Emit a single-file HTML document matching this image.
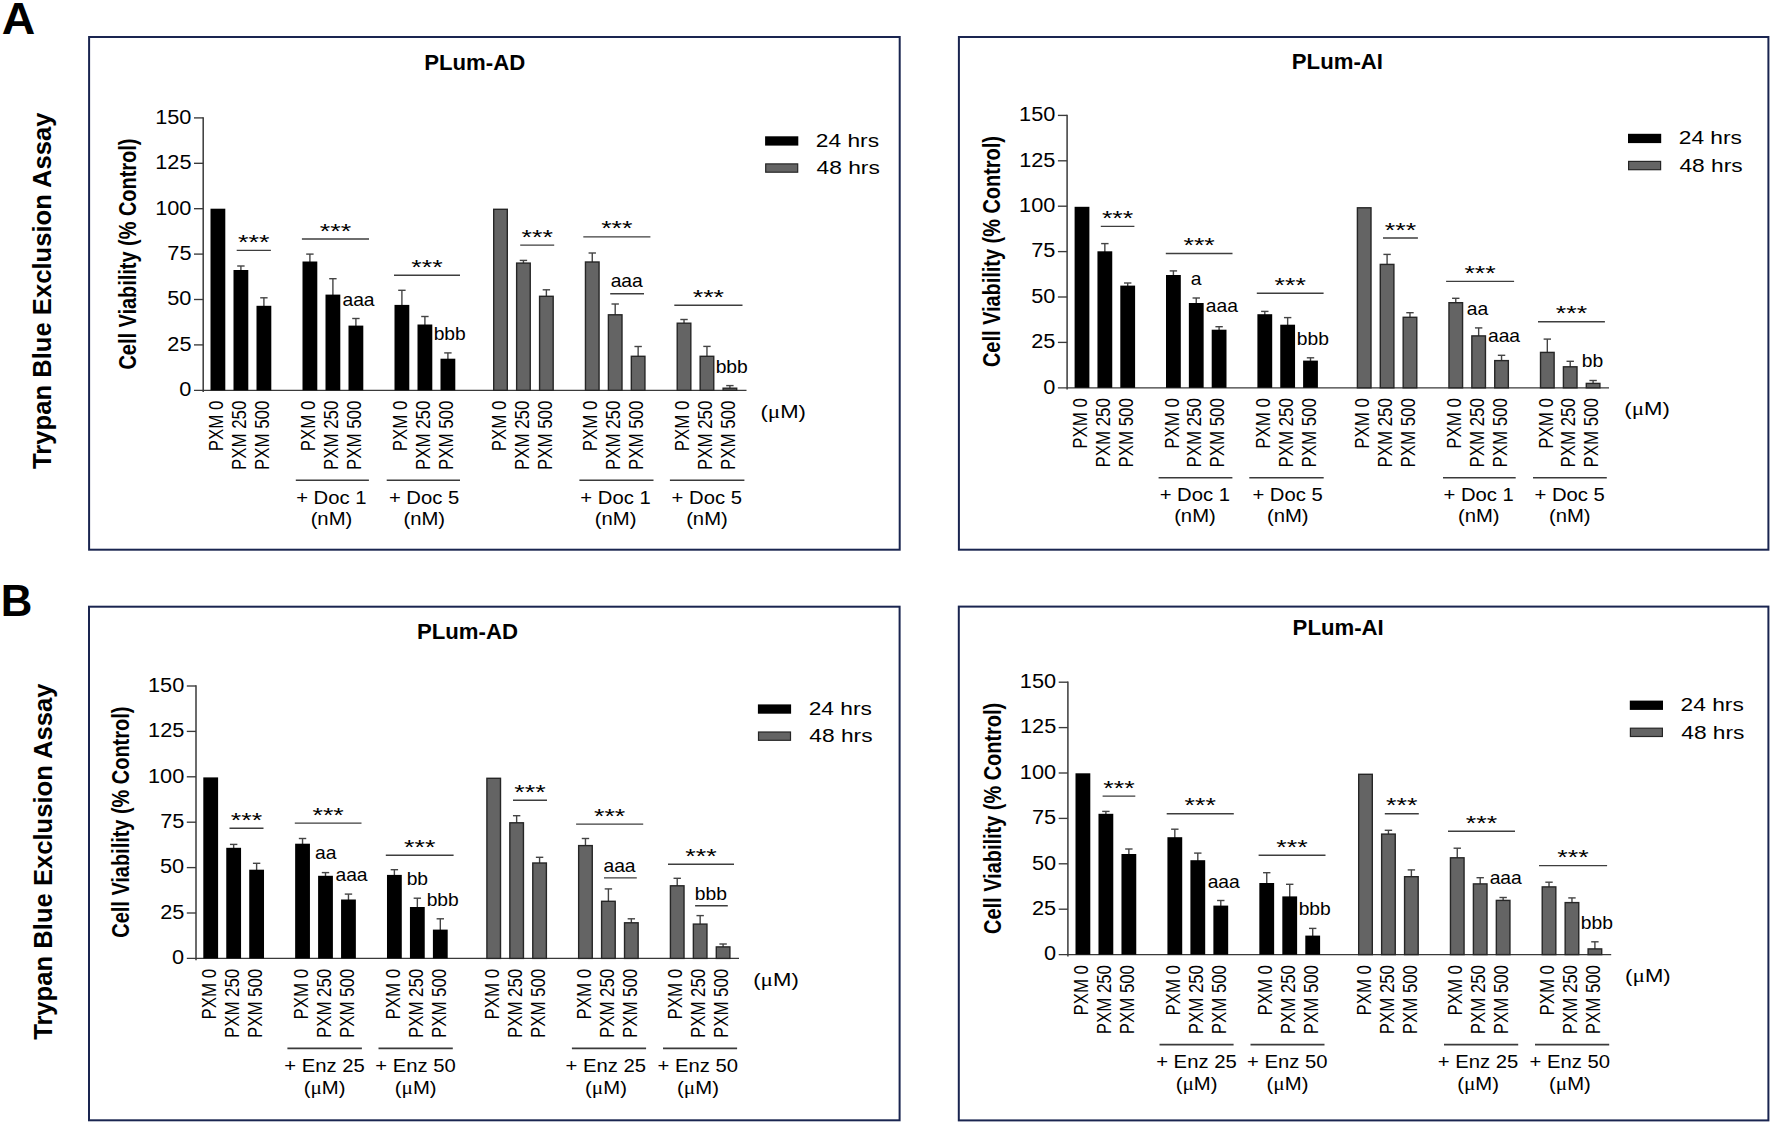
<!DOCTYPE html><html><head><meta charset="utf-8"><title>Figure</title><style>html,body{margin:0;padding:0;background:#fff}svg{display:block}</style></head><body>
<svg width="1772" height="1124" viewBox="0 0 1772 1124">
<rect width="1772" height="1124" fill="#fff"/>
<rect x="89.1" y="37" width="810.6" height="512.7" fill="none" stroke="#1a2550" stroke-width="2"/>
<text transform="translate(424.21 69.90) scale(1.0017 1)" font-family="'Liberation Sans', sans-serif" font-weight="bold" font-size="22.14" fill="#000">PLum-AD</text>
<text transform="translate(135.80 369.60) rotate(-90) scale(0.8213 1)" font-family="'Liberation Sans', sans-serif" font-weight="bold" font-size="24.28" fill="#000">Cell Viability (% Control)</text>
<line x1="203.20" y1="117.20" x2="203.20" y2="392.10" stroke="#3a3a3a" stroke-width="1.5"/>
<line x1="194.00" y1="390.30" x2="746.50" y2="390.30" stroke="#3a3a3a" stroke-width="1.35"/>
<line x1="194.00" y1="344.90" x2="203.20" y2="344.90" stroke="#3a3a3a" stroke-width="1.35"/>
<line x1="194.00" y1="299.50" x2="203.20" y2="299.50" stroke="#3a3a3a" stroke-width="1.35"/>
<line x1="194.00" y1="254.10" x2="203.20" y2="254.10" stroke="#3a3a3a" stroke-width="1.35"/>
<line x1="194.00" y1="208.70" x2="203.20" y2="208.70" stroke="#3a3a3a" stroke-width="1.35"/>
<line x1="194.00" y1="163.30" x2="203.20" y2="163.30" stroke="#3a3a3a" stroke-width="1.35"/>
<line x1="194.00" y1="117.90" x2="203.20" y2="117.90" stroke="#3a3a3a" stroke-width="1.35"/>
<text transform="translate(179.30 396.10) scale(1.0868 1)" font-family="'Liberation Sans', sans-serif" font-size="20.00" fill="#000">0</text>
<text transform="translate(167.34 350.70) scale(1.0868 1)" font-family="'Liberation Sans', sans-serif" font-size="20.00" fill="#000">25</text>
<text transform="translate(167.23 305.30) scale(1.0868 1)" font-family="'Liberation Sans', sans-serif" font-size="20.00" fill="#000">50</text>
<text transform="translate(167.34 259.90) scale(1.0868 1)" font-family="'Liberation Sans', sans-serif" font-size="20.00" fill="#000">75</text>
<text transform="translate(155.17 214.50) scale(1.0868 1)" font-family="'Liberation Sans', sans-serif" font-size="20.00" fill="#000">100</text>
<text transform="translate(155.28 169.10) scale(1.0868 1)" font-family="'Liberation Sans', sans-serif" font-size="20.00" fill="#000">125</text>
<text transform="translate(155.17 123.70) scale(1.0868 1)" font-family="'Liberation Sans', sans-serif" font-size="20.00" fill="#000">150</text>
<rect x="210.50" y="208.70" width="14.8" height="181.60" fill="#000"/>
<text transform="translate(223.10 451.28) rotate(-90) scale(0.8600 1)" font-family="'Liberation Sans', sans-serif" font-size="19.60" fill="#000">PXM 0</text>
<line x1="240.90" y1="266.00" x2="240.90" y2="271.00" stroke="#444" stroke-width="1.4"/>
<line x1="237.20" y1="266.00" x2="244.60" y2="266.00" stroke="#444" stroke-width="1.4"/>
<rect x="233.50" y="270.00" width="14.8" height="120.30" fill="#000"/>
<text transform="translate(246.10 469.99) rotate(-90) scale(0.8600 1)" font-family="'Liberation Sans', sans-serif" font-size="19.60" fill="#000">PXM 250</text>
<line x1="263.90" y1="297.80" x2="263.90" y2="306.80" stroke="#444" stroke-width="1.4"/>
<line x1="260.20" y1="297.80" x2="267.60" y2="297.80" stroke="#444" stroke-width="1.4"/>
<rect x="256.50" y="305.80" width="14.8" height="84.50" fill="#000"/>
<text transform="translate(269.10 469.99) rotate(-90) scale(0.8600 1)" font-family="'Liberation Sans', sans-serif" font-size="19.60" fill="#000">PXM 500</text>
<line x1="309.90" y1="254.10" x2="309.90" y2="262.50" stroke="#444" stroke-width="1.4"/>
<line x1="306.20" y1="254.10" x2="313.60" y2="254.10" stroke="#444" stroke-width="1.4"/>
<rect x="302.50" y="261.50" width="14.8" height="128.80" fill="#000"/>
<text transform="translate(315.10 451.28) rotate(-90) scale(0.8600 1)" font-family="'Liberation Sans', sans-serif" font-size="19.60" fill="#000">PXM 0</text>
<line x1="332.90" y1="278.70" x2="332.90" y2="295.60" stroke="#444" stroke-width="1.4"/>
<line x1="329.20" y1="278.70" x2="336.60" y2="278.70" stroke="#444" stroke-width="1.4"/>
<rect x="325.50" y="294.60" width="14.8" height="95.70" fill="#000"/>
<text transform="translate(338.10 469.99) rotate(-90) scale(0.8600 1)" font-family="'Liberation Sans', sans-serif" font-size="19.60" fill="#000">PXM 250</text>
<line x1="355.90" y1="318.50" x2="355.90" y2="326.60" stroke="#444" stroke-width="1.4"/>
<line x1="352.20" y1="318.50" x2="359.60" y2="318.50" stroke="#444" stroke-width="1.4"/>
<rect x="348.50" y="325.60" width="14.8" height="64.70" fill="#000"/>
<text transform="translate(361.10 469.99) rotate(-90) scale(0.8600 1)" font-family="'Liberation Sans', sans-serif" font-size="19.60" fill="#000">PXM 500</text>
<line x1="401.90" y1="290.30" x2="401.90" y2="305.90" stroke="#444" stroke-width="1.4"/>
<line x1="398.20" y1="290.30" x2="405.60" y2="290.30" stroke="#444" stroke-width="1.4"/>
<rect x="394.50" y="304.90" width="14.8" height="85.40" fill="#000"/>
<text transform="translate(407.10 451.28) rotate(-90) scale(0.8600 1)" font-family="'Liberation Sans', sans-serif" font-size="19.60" fill="#000">PXM 0</text>
<line x1="424.90" y1="316.50" x2="424.90" y2="325.50" stroke="#444" stroke-width="1.4"/>
<line x1="421.20" y1="316.50" x2="428.60" y2="316.50" stroke="#444" stroke-width="1.4"/>
<rect x="417.50" y="324.50" width="14.8" height="65.80" fill="#000"/>
<text transform="translate(430.10 469.99) rotate(-90) scale(0.8600 1)" font-family="'Liberation Sans', sans-serif" font-size="19.60" fill="#000">PXM 250</text>
<line x1="447.90" y1="352.90" x2="447.90" y2="359.70" stroke="#444" stroke-width="1.4"/>
<line x1="444.20" y1="352.90" x2="451.60" y2="352.90" stroke="#444" stroke-width="1.4"/>
<rect x="440.50" y="358.70" width="14.8" height="31.60" fill="#000"/>
<text transform="translate(453.10 469.99) rotate(-90) scale(0.8600 1)" font-family="'Liberation Sans', sans-serif" font-size="19.60" fill="#000">PXM 500</text>
<rect x="493.70" y="209.30" width="13.600000000000001" height="181.00" fill="#646464" stroke="#262626" stroke-width="1.4"/>
<text transform="translate(505.70 451.28) rotate(-90) scale(0.8600 1)" font-family="'Liberation Sans', sans-serif" font-size="19.60" fill="#000">PXM 0</text>
<line x1="523.44" y1="260.40" x2="523.44" y2="263.50" stroke="#444" stroke-width="1.4"/>
<line x1="519.74" y1="260.40" x2="527.14" y2="260.40" stroke="#444" stroke-width="1.4"/>
<rect x="516.64" y="263.10" width="13.600000000000001" height="127.20" fill="#646464" stroke="#262626" stroke-width="1.4"/>
<text transform="translate(528.64 469.99) rotate(-90) scale(0.8600 1)" font-family="'Liberation Sans', sans-serif" font-size="19.60" fill="#000">PXM 250</text>
<line x1="546.38" y1="289.80" x2="546.38" y2="296.70" stroke="#444" stroke-width="1.4"/>
<line x1="542.68" y1="289.80" x2="550.08" y2="289.80" stroke="#444" stroke-width="1.4"/>
<rect x="539.58" y="296.30" width="13.600000000000001" height="94.00" fill="#646464" stroke="#262626" stroke-width="1.4"/>
<text transform="translate(551.58 469.99) rotate(-90) scale(0.8600 1)" font-family="'Liberation Sans', sans-serif" font-size="19.60" fill="#000">PXM 500</text>
<line x1="592.26" y1="253.00" x2="592.26" y2="262.40" stroke="#444" stroke-width="1.4"/>
<line x1="588.56" y1="253.00" x2="595.96" y2="253.00" stroke="#444" stroke-width="1.4"/>
<rect x="585.46" y="262.00" width="13.600000000000001" height="128.30" fill="#646464" stroke="#262626" stroke-width="1.4"/>
<text transform="translate(597.46 451.28) rotate(-90) scale(0.8600 1)" font-family="'Liberation Sans', sans-serif" font-size="19.60" fill="#000">PXM 0</text>
<line x1="615.20" y1="304.00" x2="615.20" y2="315.20" stroke="#444" stroke-width="1.4"/>
<line x1="611.50" y1="304.00" x2="618.90" y2="304.00" stroke="#444" stroke-width="1.4"/>
<rect x="608.40" y="314.80" width="13.600000000000001" height="75.50" fill="#646464" stroke="#262626" stroke-width="1.4"/>
<text transform="translate(620.40 469.99) rotate(-90) scale(0.8600 1)" font-family="'Liberation Sans', sans-serif" font-size="19.60" fill="#000">PXM 250</text>
<line x1="638.14" y1="346.50" x2="638.14" y2="356.70" stroke="#444" stroke-width="1.4"/>
<line x1="634.44" y1="346.50" x2="641.84" y2="346.50" stroke="#444" stroke-width="1.4"/>
<rect x="631.34" y="356.30" width="13.600000000000001" height="34.00" fill="#646464" stroke="#262626" stroke-width="1.4"/>
<text transform="translate(643.34 469.99) rotate(-90) scale(0.8600 1)" font-family="'Liberation Sans', sans-serif" font-size="19.60" fill="#000">PXM 500</text>
<line x1="684.02" y1="319.50" x2="684.02" y2="323.60" stroke="#444" stroke-width="1.4"/>
<line x1="680.32" y1="319.50" x2="687.72" y2="319.50" stroke="#444" stroke-width="1.4"/>
<rect x="677.22" y="323.20" width="13.600000000000001" height="67.10" fill="#646464" stroke="#262626" stroke-width="1.4"/>
<text transform="translate(689.22 451.28) rotate(-90) scale(0.8600 1)" font-family="'Liberation Sans', sans-serif" font-size="19.60" fill="#000">PXM 0</text>
<line x1="706.96" y1="346.40" x2="706.96" y2="356.70" stroke="#444" stroke-width="1.4"/>
<line x1="703.26" y1="346.40" x2="710.66" y2="346.40" stroke="#444" stroke-width="1.4"/>
<rect x="700.16" y="356.30" width="13.600000000000001" height="34.00" fill="#646464" stroke="#262626" stroke-width="1.4"/>
<text transform="translate(712.16 469.99) rotate(-90) scale(0.8600 1)" font-family="'Liberation Sans', sans-serif" font-size="19.60" fill="#000">PXM 250</text>
<line x1="729.90" y1="385.60" x2="729.90" y2="388.60" stroke="#444" stroke-width="1.4"/>
<line x1="726.20" y1="385.60" x2="733.60" y2="385.60" stroke="#444" stroke-width="1.4"/>
<rect x="723.10" y="388.20" width="13.600000000000001" height="2.10" fill="#646464" stroke="#262626" stroke-width="1.4"/>
<text transform="translate(735.10 469.99) rotate(-90) scale(0.8600 1)" font-family="'Liberation Sans', sans-serif" font-size="19.60" fill="#000">PXM 500</text>
<line x1="295.80" y1="480.30" x2="368.90" y2="480.30" stroke="#3a3a3a" stroke-width="1.6"/>
<text transform="translate(296.14 503.90) scale(1.1534 1)" font-family="'Liberation Sans', sans-serif" font-size="17.57" fill="#000">+ Doc 1</text>
<text transform="translate(310.63 524.50) scale(1.1534 1)" font-family="'Liberation Sans', sans-serif" font-size="17.57" fill="#000">(nM)</text>
<line x1="386.70" y1="480.30" x2="460.00" y2="480.30" stroke="#3a3a3a" stroke-width="1.6"/>
<text transform="translate(388.89 503.90) scale(1.1534 1)" font-family="'Liberation Sans', sans-serif" font-size="17.57" fill="#000">+ Doc 5</text>
<text transform="translate(403.43 524.50) scale(1.1534 1)" font-family="'Liberation Sans', sans-serif" font-size="17.57" fill="#000">(nM)</text>
<line x1="579.40" y1="480.30" x2="653.50" y2="480.30" stroke="#3a3a3a" stroke-width="1.6"/>
<text transform="translate(580.34 503.90) scale(1.1534 1)" font-family="'Liberation Sans', sans-serif" font-size="17.57" fill="#000">+ Doc 1</text>
<text transform="translate(594.83 524.50) scale(1.1534 1)" font-family="'Liberation Sans', sans-serif" font-size="17.57" fill="#000">(nM)</text>
<line x1="669.90" y1="480.30" x2="744.40" y2="480.30" stroke="#3a3a3a" stroke-width="1.6"/>
<text transform="translate(671.59 503.90) scale(1.1534 1)" font-family="'Liberation Sans', sans-serif" font-size="17.57" fill="#000">+ Doc 5</text>
<text transform="translate(686.13 524.50) scale(1.1534 1)" font-family="'Liberation Sans', sans-serif" font-size="17.57" fill="#000">(nM)</text>
<text transform="translate(760.42 417.90) scale(1.2572 1)" font-family="'Liberation Sans', sans-serif" font-size="17.57" fill="#000">(<tspan font-family="'Liberation Serif', serif" font-size="18.45">μ</tspan>M)</text>
<rect x="765.10" y="136.30" width="33.2" height="9.3" fill="#000"/>
<rect x="765.70" y="163.90" width="32" height="8.3" fill="#646464" stroke="#262626" stroke-width="1.2"/>
<text transform="translate(815.86 146.90) scale(1.2570 1)" font-family="'Liberation Sans', sans-serif" font-size="18.10" fill="#000">24 hrs</text>
<text transform="translate(816.55 174.30) scale(1.2570 1)" font-family="'Liberation Sans', sans-serif" font-size="18.10" fill="#000">48 hrs</text>
<line x1="236.70" y1="250.40" x2="270.90" y2="250.40" stroke="#3e3e3e" stroke-width="1.4"/>
<text transform="translate(238.10 248.99) scale(1.2870 1)" font-family="'Liberation Sans', sans-serif" font-size="20.86" fill="#000">***</text>
<line x1="301.90" y1="239.00" x2="369.00" y2="239.00" stroke="#3e3e3e" stroke-width="1.4"/>
<text transform="translate(319.75 237.59) scale(1.2870 1)" font-family="'Liberation Sans', sans-serif" font-size="20.86" fill="#000">***</text>
<line x1="394.00" y1="275.20" x2="460.00" y2="275.20" stroke="#3e3e3e" stroke-width="1.4"/>
<text transform="translate(411.30 273.79) scale(1.2870 1)" font-family="'Liberation Sans', sans-serif" font-size="20.86" fill="#000">***</text>
<line x1="520.20" y1="245.10" x2="554.20" y2="245.10" stroke="#3e3e3e" stroke-width="1.4"/>
<text transform="translate(521.50 243.69) scale(1.2870 1)" font-family="'Liberation Sans', sans-serif" font-size="20.86" fill="#000">***</text>
<line x1="583.30" y1="236.90" x2="650.40" y2="236.90" stroke="#3e3e3e" stroke-width="1.4"/>
<text transform="translate(601.15 235.49) scale(1.2870 1)" font-family="'Liberation Sans', sans-serif" font-size="20.86" fill="#000">***</text>
<line x1="674.30" y1="305.30" x2="742.50" y2="305.30" stroke="#3e3e3e" stroke-width="1.4"/>
<text transform="translate(692.70 303.89) scale(1.2870 1)" font-family="'Liberation Sans', sans-serif" font-size="20.86" fill="#000">***</text>
<line x1="610.20" y1="293.70" x2="644.00" y2="293.70" stroke="#3e3e3e" stroke-width="1.4"/>
<text transform="translate(342.43 306.00) scale(1.0900 1)" font-family="'Liberation Sans', sans-serif" font-size="17.70" fill="#000">aaa</text>
<text transform="translate(433.65 339.80) scale(1.0900 1)" font-family="'Liberation Sans', sans-serif" font-size="17.70" fill="#000">bbb</text>
<text transform="translate(610.63 287.10) scale(1.0900 1)" font-family="'Liberation Sans', sans-serif" font-size="17.70" fill="#000">aaa</text>
<text transform="translate(715.65 372.50) scale(1.0900 1)" font-family="'Liberation Sans', sans-serif" font-size="17.70" fill="#000">bbb</text>
<rect x="958.9" y="37" width="809.5000000000001" height="512.7" fill="none" stroke="#1a2550" stroke-width="2"/>
<text transform="translate(1291.82 68.60) scale(1.0017 1)" font-family="'Liberation Sans', sans-serif" font-weight="bold" font-size="22.14" fill="#000">PLum-AI</text>
<text transform="translate(999.70 367.10) rotate(-90) scale(0.8213 1)" font-family="'Liberation Sans', sans-serif" font-weight="bold" font-size="24.28" fill="#000">Cell Viability (% Control)</text>
<line x1="1067.10" y1="114.70" x2="1067.10" y2="389.60" stroke="#3a3a3a" stroke-width="1.5"/>
<line x1="1057.90" y1="387.80" x2="1609.00" y2="387.80" stroke="#3a3a3a" stroke-width="1.35"/>
<line x1="1057.90" y1="342.40" x2="1067.10" y2="342.40" stroke="#3a3a3a" stroke-width="1.35"/>
<line x1="1057.90" y1="297.00" x2="1067.10" y2="297.00" stroke="#3a3a3a" stroke-width="1.35"/>
<line x1="1057.90" y1="251.60" x2="1067.10" y2="251.60" stroke="#3a3a3a" stroke-width="1.35"/>
<line x1="1057.90" y1="206.20" x2="1067.10" y2="206.20" stroke="#3a3a3a" stroke-width="1.35"/>
<line x1="1057.90" y1="160.80" x2="1067.10" y2="160.80" stroke="#3a3a3a" stroke-width="1.35"/>
<line x1="1057.90" y1="115.40" x2="1067.10" y2="115.40" stroke="#3a3a3a" stroke-width="1.35"/>
<text transform="translate(1043.20 393.60) scale(1.0868 1)" font-family="'Liberation Sans', sans-serif" font-size="20.00" fill="#000">0</text>
<text transform="translate(1031.24 348.20) scale(1.0868 1)" font-family="'Liberation Sans', sans-serif" font-size="20.00" fill="#000">25</text>
<text transform="translate(1031.13 302.80) scale(1.0868 1)" font-family="'Liberation Sans', sans-serif" font-size="20.00" fill="#000">50</text>
<text transform="translate(1031.24 257.40) scale(1.0868 1)" font-family="'Liberation Sans', sans-serif" font-size="20.00" fill="#000">75</text>
<text transform="translate(1019.07 212.00) scale(1.0868 1)" font-family="'Liberation Sans', sans-serif" font-size="20.00" fill="#000">100</text>
<text transform="translate(1019.18 166.60) scale(1.0868 1)" font-family="'Liberation Sans', sans-serif" font-size="20.00" fill="#000">125</text>
<text transform="translate(1019.07 121.20) scale(1.0868 1)" font-family="'Liberation Sans', sans-serif" font-size="20.00" fill="#000">150</text>
<rect x="1074.60" y="206.80" width="14.8" height="181.00" fill="#000"/>
<text transform="translate(1087.20 448.78) rotate(-90) scale(0.8600 1)" font-family="'Liberation Sans', sans-serif" font-size="19.60" fill="#000">PXM 0</text>
<line x1="1104.85" y1="243.60" x2="1104.85" y2="252.30" stroke="#444" stroke-width="1.4"/>
<line x1="1101.15" y1="243.60" x2="1108.55" y2="243.60" stroke="#444" stroke-width="1.4"/>
<rect x="1097.45" y="251.30" width="14.8" height="136.50" fill="#000"/>
<text transform="translate(1110.05 467.49) rotate(-90) scale(0.8600 1)" font-family="'Liberation Sans', sans-serif" font-size="19.60" fill="#000">PXM 250</text>
<line x1="1127.70" y1="283.00" x2="1127.70" y2="286.60" stroke="#444" stroke-width="1.4"/>
<line x1="1124.00" y1="283.00" x2="1131.40" y2="283.00" stroke="#444" stroke-width="1.4"/>
<rect x="1120.30" y="285.60" width="14.8" height="102.20" fill="#000"/>
<text transform="translate(1132.90 467.49) rotate(-90) scale(0.8600 1)" font-family="'Liberation Sans', sans-serif" font-size="19.60" fill="#000">PXM 500</text>
<line x1="1173.40" y1="270.90" x2="1173.40" y2="276.00" stroke="#444" stroke-width="1.4"/>
<line x1="1169.70" y1="270.90" x2="1177.10" y2="270.90" stroke="#444" stroke-width="1.4"/>
<rect x="1166.00" y="275.00" width="14.8" height="112.80" fill="#000"/>
<text transform="translate(1178.60 448.78) rotate(-90) scale(0.8600 1)" font-family="'Liberation Sans', sans-serif" font-size="19.60" fill="#000">PXM 0</text>
<line x1="1196.25" y1="298.00" x2="1196.25" y2="304.00" stroke="#444" stroke-width="1.4"/>
<line x1="1192.55" y1="298.00" x2="1199.95" y2="298.00" stroke="#444" stroke-width="1.4"/>
<rect x="1188.85" y="303.00" width="14.8" height="84.80" fill="#000"/>
<text transform="translate(1201.45 467.49) rotate(-90) scale(0.8600 1)" font-family="'Liberation Sans', sans-serif" font-size="19.60" fill="#000">PXM 250</text>
<line x1="1219.10" y1="326.70" x2="1219.10" y2="330.70" stroke="#444" stroke-width="1.4"/>
<line x1="1215.40" y1="326.70" x2="1222.80" y2="326.70" stroke="#444" stroke-width="1.4"/>
<rect x="1211.70" y="329.70" width="14.8" height="58.10" fill="#000"/>
<text transform="translate(1224.30 467.49) rotate(-90) scale(0.8600 1)" font-family="'Liberation Sans', sans-serif" font-size="19.60" fill="#000">PXM 500</text>
<line x1="1264.80" y1="311.40" x2="1264.80" y2="315.20" stroke="#444" stroke-width="1.4"/>
<line x1="1261.10" y1="311.40" x2="1268.50" y2="311.40" stroke="#444" stroke-width="1.4"/>
<rect x="1257.40" y="314.20" width="14.8" height="73.60" fill="#000"/>
<text transform="translate(1270.00 448.78) rotate(-90) scale(0.8600 1)" font-family="'Liberation Sans', sans-serif" font-size="19.60" fill="#000">PXM 0</text>
<line x1="1287.65" y1="317.60" x2="1287.65" y2="325.70" stroke="#444" stroke-width="1.4"/>
<line x1="1283.95" y1="317.60" x2="1291.35" y2="317.60" stroke="#444" stroke-width="1.4"/>
<rect x="1280.25" y="324.70" width="14.8" height="63.10" fill="#000"/>
<text transform="translate(1292.85 467.49) rotate(-90) scale(0.8600 1)" font-family="'Liberation Sans', sans-serif" font-size="19.60" fill="#000">PXM 250</text>
<line x1="1310.50" y1="357.80" x2="1310.50" y2="361.60" stroke="#444" stroke-width="1.4"/>
<line x1="1306.80" y1="357.80" x2="1314.20" y2="357.80" stroke="#444" stroke-width="1.4"/>
<rect x="1303.10" y="360.60" width="14.8" height="27.20" fill="#000"/>
<text transform="translate(1315.70 467.49) rotate(-90) scale(0.8600 1)" font-family="'Liberation Sans', sans-serif" font-size="19.60" fill="#000">PXM 500</text>
<rect x="1357.40" y="207.80" width="13.600000000000001" height="180.00" fill="#646464" stroke="#262626" stroke-width="1.4"/>
<text transform="translate(1369.40 448.78) rotate(-90) scale(0.8600 1)" font-family="'Liberation Sans', sans-serif" font-size="19.60" fill="#000">PXM 0</text>
<line x1="1387.09" y1="254.40" x2="1387.09" y2="264.80" stroke="#444" stroke-width="1.4"/>
<line x1="1383.39" y1="254.40" x2="1390.79" y2="254.40" stroke="#444" stroke-width="1.4"/>
<rect x="1380.29" y="264.40" width="13.600000000000001" height="123.40" fill="#646464" stroke="#262626" stroke-width="1.4"/>
<text transform="translate(1392.29 467.49) rotate(-90) scale(0.8600 1)" font-family="'Liberation Sans', sans-serif" font-size="19.60" fill="#000">PXM 250</text>
<line x1="1409.98" y1="312.70" x2="1409.98" y2="317.70" stroke="#444" stroke-width="1.4"/>
<line x1="1406.28" y1="312.70" x2="1413.68" y2="312.70" stroke="#444" stroke-width="1.4"/>
<rect x="1403.18" y="317.30" width="13.600000000000001" height="70.50" fill="#646464" stroke="#262626" stroke-width="1.4"/>
<text transform="translate(1415.18 467.49) rotate(-90) scale(0.8600 1)" font-family="'Liberation Sans', sans-serif" font-size="19.60" fill="#000">PXM 500</text>
<line x1="1455.76" y1="298.30" x2="1455.76" y2="303.10" stroke="#444" stroke-width="1.4"/>
<line x1="1452.06" y1="298.30" x2="1459.46" y2="298.30" stroke="#444" stroke-width="1.4"/>
<rect x="1448.96" y="302.70" width="13.600000000000001" height="85.10" fill="#646464" stroke="#262626" stroke-width="1.4"/>
<text transform="translate(1460.96 448.78) rotate(-90) scale(0.8600 1)" font-family="'Liberation Sans', sans-serif" font-size="19.60" fill="#000">PXM 0</text>
<line x1="1478.65" y1="327.90" x2="1478.65" y2="336.30" stroke="#444" stroke-width="1.4"/>
<line x1="1474.95" y1="327.90" x2="1482.35" y2="327.90" stroke="#444" stroke-width="1.4"/>
<rect x="1471.85" y="335.90" width="13.600000000000001" height="51.90" fill="#646464" stroke="#262626" stroke-width="1.4"/>
<text transform="translate(1483.85 467.49) rotate(-90) scale(0.8600 1)" font-family="'Liberation Sans', sans-serif" font-size="19.60" fill="#000">PXM 250</text>
<line x1="1501.54" y1="355.30" x2="1501.54" y2="361.00" stroke="#444" stroke-width="1.4"/>
<line x1="1497.84" y1="355.30" x2="1505.24" y2="355.30" stroke="#444" stroke-width="1.4"/>
<rect x="1494.74" y="360.60" width="13.600000000000001" height="27.20" fill="#646464" stroke="#262626" stroke-width="1.4"/>
<text transform="translate(1506.74 467.49) rotate(-90) scale(0.8600 1)" font-family="'Liberation Sans', sans-serif" font-size="19.60" fill="#000">PXM 500</text>
<line x1="1547.32" y1="339.10" x2="1547.32" y2="352.80" stroke="#444" stroke-width="1.4"/>
<line x1="1543.62" y1="339.10" x2="1551.02" y2="339.10" stroke="#444" stroke-width="1.4"/>
<rect x="1540.52" y="352.40" width="13.600000000000001" height="35.40" fill="#646464" stroke="#262626" stroke-width="1.4"/>
<text transform="translate(1552.52 448.78) rotate(-90) scale(0.8600 1)" font-family="'Liberation Sans', sans-serif" font-size="19.60" fill="#000">PXM 0</text>
<line x1="1570.21" y1="361.30" x2="1570.21" y2="367.20" stroke="#444" stroke-width="1.4"/>
<line x1="1566.51" y1="361.30" x2="1573.91" y2="361.30" stroke="#444" stroke-width="1.4"/>
<rect x="1563.41" y="366.80" width="13.600000000000001" height="21.00" fill="#646464" stroke="#262626" stroke-width="1.4"/>
<text transform="translate(1575.41 467.49) rotate(-90) scale(0.8600 1)" font-family="'Liberation Sans', sans-serif" font-size="19.60" fill="#000">PXM 250</text>
<line x1="1593.10" y1="380.50" x2="1593.10" y2="383.80" stroke="#444" stroke-width="1.4"/>
<line x1="1589.40" y1="380.50" x2="1596.80" y2="380.50" stroke="#444" stroke-width="1.4"/>
<rect x="1586.30" y="383.40" width="13.600000000000001" height="4.40" fill="#646464" stroke="#262626" stroke-width="1.4"/>
<text transform="translate(1598.30 467.49) rotate(-90) scale(0.8600 1)" font-family="'Liberation Sans', sans-serif" font-size="19.60" fill="#000">PXM 500</text>
<line x1="1158.60" y1="477.80" x2="1232.40" y2="477.80" stroke="#3a3a3a" stroke-width="1.6"/>
<text transform="translate(1159.64 501.40) scale(1.1534 1)" font-family="'Liberation Sans', sans-serif" font-size="17.57" fill="#000">+ Doc 1</text>
<text transform="translate(1174.13 522.00) scale(1.1534 1)" font-family="'Liberation Sans', sans-serif" font-size="17.57" fill="#000">(nM)</text>
<line x1="1249.30" y1="477.80" x2="1323.70" y2="477.80" stroke="#3a3a3a" stroke-width="1.6"/>
<text transform="translate(1252.39 501.40) scale(1.1534 1)" font-family="'Liberation Sans', sans-serif" font-size="17.57" fill="#000">+ Doc 5</text>
<text transform="translate(1266.93 522.00) scale(1.1534 1)" font-family="'Liberation Sans', sans-serif" font-size="17.57" fill="#000">(nM)</text>
<line x1="1443.00" y1="477.80" x2="1515.70" y2="477.80" stroke="#3a3a3a" stroke-width="1.6"/>
<text transform="translate(1443.44 501.40) scale(1.1534 1)" font-family="'Liberation Sans', sans-serif" font-size="17.57" fill="#000">+ Doc 1</text>
<text transform="translate(1457.93 522.00) scale(1.1534 1)" font-family="'Liberation Sans', sans-serif" font-size="17.57" fill="#000">(nM)</text>
<line x1="1533.00" y1="477.80" x2="1606.80" y2="477.80" stroke="#3a3a3a" stroke-width="1.6"/>
<text transform="translate(1534.44 501.40) scale(1.1534 1)" font-family="'Liberation Sans', sans-serif" font-size="17.57" fill="#000">+ Doc 5</text>
<text transform="translate(1548.98 522.00) scale(1.1534 1)" font-family="'Liberation Sans', sans-serif" font-size="17.57" fill="#000">(nM)</text>
<text transform="translate(1624.32 415.40) scale(1.2572 1)" font-family="'Liberation Sans', sans-serif" font-size="17.57" fill="#000">(<tspan font-family="'Liberation Serif', serif" font-size="18.45">μ</tspan>M)</text>
<rect x="1628.00" y="133.80" width="33.2" height="9.3" fill="#000"/>
<rect x="1628.60" y="161.40" width="32" height="8.3" fill="#646464" stroke="#262626" stroke-width="1.2"/>
<text transform="translate(1678.76 144.40) scale(1.2570 1)" font-family="'Liberation Sans', sans-serif" font-size="18.10" fill="#000">24 hrs</text>
<text transform="translate(1679.45 171.80) scale(1.2570 1)" font-family="'Liberation Sans', sans-serif" font-size="18.10" fill="#000">48 hrs</text>
<line x1="1100.80" y1="226.40" x2="1134.40" y2="226.40" stroke="#3e3e3e" stroke-width="1.4"/>
<text transform="translate(1101.90 224.99) scale(1.2870 1)" font-family="'Liberation Sans', sans-serif" font-size="20.86" fill="#000">***</text>
<line x1="1165.80" y1="253.50" x2="1232.50" y2="253.50" stroke="#3e3e3e" stroke-width="1.4"/>
<text transform="translate(1183.45 252.09) scale(1.2870 1)" font-family="'Liberation Sans', sans-serif" font-size="20.86" fill="#000">***</text>
<line x1="1256.80" y1="293.30" x2="1323.60" y2="293.30" stroke="#3e3e3e" stroke-width="1.4"/>
<text transform="translate(1274.50 291.89) scale(1.2870 1)" font-family="'Liberation Sans', sans-serif" font-size="20.86" fill="#000">***</text>
<line x1="1383.00" y1="238.00" x2="1417.90" y2="238.00" stroke="#3e3e3e" stroke-width="1.4"/>
<text transform="translate(1384.75 236.59) scale(1.2870 1)" font-family="'Liberation Sans', sans-serif" font-size="20.86" fill="#000">***</text>
<line x1="1446.10" y1="281.40" x2="1514.10" y2="281.40" stroke="#3e3e3e" stroke-width="1.4"/>
<text transform="translate(1464.40 279.99) scale(1.2870 1)" font-family="'Liberation Sans', sans-serif" font-size="20.86" fill="#000">***</text>
<line x1="1538.00" y1="321.70" x2="1604.90" y2="321.70" stroke="#3e3e3e" stroke-width="1.4"/>
<text transform="translate(1555.75 320.29) scale(1.2870 1)" font-family="'Liberation Sans', sans-serif" font-size="20.86" fill="#000">***</text>
<text transform="translate(1190.63 285.20) scale(1.0900 1)" font-family="'Liberation Sans', sans-serif" font-size="17.70" fill="#000">a</text>
<text transform="translate(1205.73 312.30) scale(1.0900 1)" font-family="'Liberation Sans', sans-serif" font-size="17.70" fill="#000">aaa</text>
<text transform="translate(1296.85 344.50) scale(1.0900 1)" font-family="'Liberation Sans', sans-serif" font-size="17.70" fill="#000">bbb</text>
<text transform="translate(1466.83 314.80) scale(1.0900 1)" font-family="'Liberation Sans', sans-serif" font-size="17.70" fill="#000">aa</text>
<text transform="translate(1487.93 341.80) scale(1.0900 1)" font-family="'Liberation Sans', sans-serif" font-size="17.70" fill="#000">aaa</text>
<text transform="translate(1581.85 366.50) scale(1.0900 1)" font-family="'Liberation Sans', sans-serif" font-size="17.70" fill="#000">bb</text>
<rect x="89" y="606.7" width="810.6" height="513.5999999999999" fill="none" stroke="#1a2550" stroke-width="2"/>
<text transform="translate(417.01 638.90) scale(1.0017 1)" font-family="'Liberation Sans', sans-serif" font-weight="bold" font-size="22.14" fill="#000">PLum-AD</text>
<text transform="translate(128.60 937.70) rotate(-90) scale(0.8213 1)" font-family="'Liberation Sans', sans-serif" font-weight="bold" font-size="24.28" fill="#000">Cell Viability (% Control)</text>
<line x1="196.00" y1="685.30" x2="196.00" y2="960.20" stroke="#3a3a3a" stroke-width="1.5"/>
<line x1="186.80" y1="958.40" x2="739.00" y2="958.40" stroke="#3a3a3a" stroke-width="1.35"/>
<line x1="186.80" y1="913.00" x2="196.00" y2="913.00" stroke="#3a3a3a" stroke-width="1.35"/>
<line x1="186.80" y1="867.60" x2="196.00" y2="867.60" stroke="#3a3a3a" stroke-width="1.35"/>
<line x1="186.80" y1="822.20" x2="196.00" y2="822.20" stroke="#3a3a3a" stroke-width="1.35"/>
<line x1="186.80" y1="776.80" x2="196.00" y2="776.80" stroke="#3a3a3a" stroke-width="1.35"/>
<line x1="186.80" y1="731.40" x2="196.00" y2="731.40" stroke="#3a3a3a" stroke-width="1.35"/>
<line x1="186.80" y1="686.00" x2="196.00" y2="686.00" stroke="#3a3a3a" stroke-width="1.35"/>
<text transform="translate(172.10 964.20) scale(1.0868 1)" font-family="'Liberation Sans', sans-serif" font-size="20.00" fill="#000">0</text>
<text transform="translate(160.14 918.80) scale(1.0868 1)" font-family="'Liberation Sans', sans-serif" font-size="20.00" fill="#000">25</text>
<text transform="translate(160.03 873.40) scale(1.0868 1)" font-family="'Liberation Sans', sans-serif" font-size="20.00" fill="#000">50</text>
<text transform="translate(160.14 828.00) scale(1.0868 1)" font-family="'Liberation Sans', sans-serif" font-size="20.00" fill="#000">75</text>
<text transform="translate(147.97 782.60) scale(1.0868 1)" font-family="'Liberation Sans', sans-serif" font-size="20.00" fill="#000">100</text>
<text transform="translate(148.08 737.20) scale(1.0868 1)" font-family="'Liberation Sans', sans-serif" font-size="20.00" fill="#000">125</text>
<text transform="translate(147.97 691.80) scale(1.0868 1)" font-family="'Liberation Sans', sans-serif" font-size="20.00" fill="#000">150</text>
<rect x="203.30" y="777.40" width="14.8" height="181.00" fill="#000"/>
<text transform="translate(215.90 1019.38) rotate(-90) scale(0.8600 1)" font-family="'Liberation Sans', sans-serif" font-size="19.60" fill="#000">PXM 0</text>
<line x1="233.66" y1="844.40" x2="233.66" y2="848.80" stroke="#444" stroke-width="1.4"/>
<line x1="229.96" y1="844.40" x2="237.36" y2="844.40" stroke="#444" stroke-width="1.4"/>
<rect x="226.26" y="847.80" width="14.8" height="110.60" fill="#000"/>
<text transform="translate(238.86 1038.09) rotate(-90) scale(0.8600 1)" font-family="'Liberation Sans', sans-serif" font-size="19.60" fill="#000">PXM 250</text>
<line x1="256.62" y1="863.30" x2="256.62" y2="870.70" stroke="#444" stroke-width="1.4"/>
<line x1="252.92" y1="863.30" x2="260.32" y2="863.30" stroke="#444" stroke-width="1.4"/>
<rect x="249.22" y="869.70" width="14.8" height="88.70" fill="#000"/>
<text transform="translate(261.82 1038.09) rotate(-90) scale(0.8600 1)" font-family="'Liberation Sans', sans-serif" font-size="19.60" fill="#000">PXM 500</text>
<line x1="302.54" y1="838.50" x2="302.54" y2="844.70" stroke="#444" stroke-width="1.4"/>
<line x1="298.84" y1="838.50" x2="306.24" y2="838.50" stroke="#444" stroke-width="1.4"/>
<rect x="295.14" y="843.70" width="14.8" height="114.70" fill="#000"/>
<text transform="translate(307.74 1019.38) rotate(-90) scale(0.8600 1)" font-family="'Liberation Sans', sans-serif" font-size="19.60" fill="#000">PXM 0</text>
<line x1="325.50" y1="872.60" x2="325.50" y2="876.80" stroke="#444" stroke-width="1.4"/>
<line x1="321.80" y1="872.60" x2="329.20" y2="872.60" stroke="#444" stroke-width="1.4"/>
<rect x="318.10" y="875.80" width="14.8" height="82.60" fill="#000"/>
<text transform="translate(330.70 1038.09) rotate(-90) scale(0.8600 1)" font-family="'Liberation Sans', sans-serif" font-size="19.60" fill="#000">PXM 250</text>
<line x1="348.46" y1="894.10" x2="348.46" y2="900.50" stroke="#444" stroke-width="1.4"/>
<line x1="344.76" y1="894.10" x2="352.16" y2="894.10" stroke="#444" stroke-width="1.4"/>
<rect x="341.06" y="899.50" width="14.8" height="58.90" fill="#000"/>
<text transform="translate(353.66 1038.09) rotate(-90) scale(0.8600 1)" font-family="'Liberation Sans', sans-serif" font-size="19.60" fill="#000">PXM 500</text>
<line x1="394.38" y1="869.70" x2="394.38" y2="875.90" stroke="#444" stroke-width="1.4"/>
<line x1="390.68" y1="869.70" x2="398.08" y2="869.70" stroke="#444" stroke-width="1.4"/>
<rect x="386.98" y="874.90" width="14.8" height="83.50" fill="#000"/>
<text transform="translate(399.58 1019.38) rotate(-90) scale(0.8600 1)" font-family="'Liberation Sans', sans-serif" font-size="19.60" fill="#000">PXM 0</text>
<line x1="417.34" y1="898.20" x2="417.34" y2="908.00" stroke="#444" stroke-width="1.4"/>
<line x1="413.64" y1="898.20" x2="421.04" y2="898.20" stroke="#444" stroke-width="1.4"/>
<rect x="409.94" y="907.00" width="14.8" height="51.40" fill="#000"/>
<text transform="translate(422.54 1038.09) rotate(-90) scale(0.8600 1)" font-family="'Liberation Sans', sans-serif" font-size="19.60" fill="#000">PXM 250</text>
<line x1="440.30" y1="918.80" x2="440.30" y2="930.60" stroke="#444" stroke-width="1.4"/>
<line x1="436.60" y1="918.80" x2="444.00" y2="918.80" stroke="#444" stroke-width="1.4"/>
<rect x="432.90" y="929.60" width="14.8" height="28.80" fill="#000"/>
<text transform="translate(445.50 1038.09) rotate(-90) scale(0.8600 1)" font-family="'Liberation Sans', sans-serif" font-size="19.60" fill="#000">PXM 500</text>
<rect x="486.90" y="778.30" width="13.600000000000001" height="180.10" fill="#646464" stroke="#262626" stroke-width="1.4"/>
<text transform="translate(498.90 1019.38) rotate(-90) scale(0.8600 1)" font-family="'Liberation Sans', sans-serif" font-size="19.60" fill="#000">PXM 0</text>
<line x1="516.64" y1="815.70" x2="516.64" y2="823.20" stroke="#444" stroke-width="1.4"/>
<line x1="512.94" y1="815.70" x2="520.34" y2="815.70" stroke="#444" stroke-width="1.4"/>
<rect x="509.84" y="822.80" width="13.600000000000001" height="135.60" fill="#646464" stroke="#262626" stroke-width="1.4"/>
<text transform="translate(521.84 1038.09) rotate(-90) scale(0.8600 1)" font-family="'Liberation Sans', sans-serif" font-size="19.60" fill="#000">PXM 250</text>
<line x1="539.58" y1="857.30" x2="539.58" y2="863.40" stroke="#444" stroke-width="1.4"/>
<line x1="535.88" y1="857.30" x2="543.28" y2="857.30" stroke="#444" stroke-width="1.4"/>
<rect x="532.78" y="863.00" width="13.600000000000001" height="95.40" fill="#646464" stroke="#262626" stroke-width="1.4"/>
<text transform="translate(544.78 1038.09) rotate(-90) scale(0.8600 1)" font-family="'Liberation Sans', sans-serif" font-size="19.60" fill="#000">PXM 500</text>
<line x1="585.46" y1="838.50" x2="585.46" y2="846.00" stroke="#444" stroke-width="1.4"/>
<line x1="581.76" y1="838.50" x2="589.16" y2="838.50" stroke="#444" stroke-width="1.4"/>
<rect x="578.66" y="845.60" width="13.600000000000001" height="112.80" fill="#646464" stroke="#262626" stroke-width="1.4"/>
<text transform="translate(590.66 1019.38) rotate(-90) scale(0.8600 1)" font-family="'Liberation Sans', sans-serif" font-size="19.60" fill="#000">PXM 0</text>
<line x1="608.40" y1="888.90" x2="608.40" y2="901.70" stroke="#444" stroke-width="1.4"/>
<line x1="604.70" y1="888.90" x2="612.10" y2="888.90" stroke="#444" stroke-width="1.4"/>
<rect x="601.60" y="901.30" width="13.600000000000001" height="57.10" fill="#646464" stroke="#262626" stroke-width="1.4"/>
<text transform="translate(613.60 1038.09) rotate(-90) scale(0.8600 1)" font-family="'Liberation Sans', sans-serif" font-size="19.60" fill="#000">PXM 250</text>
<line x1="631.34" y1="918.80" x2="631.34" y2="923.20" stroke="#444" stroke-width="1.4"/>
<line x1="627.64" y1="918.80" x2="635.04" y2="918.80" stroke="#444" stroke-width="1.4"/>
<rect x="624.54" y="922.80" width="13.600000000000001" height="35.60" fill="#646464" stroke="#262626" stroke-width="1.4"/>
<text transform="translate(636.54 1038.09) rotate(-90) scale(0.8600 1)" font-family="'Liberation Sans', sans-serif" font-size="19.60" fill="#000">PXM 500</text>
<line x1="677.22" y1="878.30" x2="677.22" y2="886.20" stroke="#444" stroke-width="1.4"/>
<line x1="673.52" y1="878.30" x2="680.92" y2="878.30" stroke="#444" stroke-width="1.4"/>
<rect x="670.42" y="885.80" width="13.600000000000001" height="72.60" fill="#646464" stroke="#262626" stroke-width="1.4"/>
<text transform="translate(682.42 1019.38) rotate(-90) scale(0.8600 1)" font-family="'Liberation Sans', sans-serif" font-size="19.60" fill="#000">PXM 0</text>
<line x1="700.16" y1="915.60" x2="700.16" y2="924.50" stroke="#444" stroke-width="1.4"/>
<line x1="696.46" y1="915.60" x2="703.86" y2="915.60" stroke="#444" stroke-width="1.4"/>
<rect x="693.36" y="924.10" width="13.600000000000001" height="34.30" fill="#646464" stroke="#262626" stroke-width="1.4"/>
<text transform="translate(705.36 1038.09) rotate(-90) scale(0.8600 1)" font-family="'Liberation Sans', sans-serif" font-size="19.60" fill="#000">PXM 250</text>
<line x1="723.10" y1="944.00" x2="723.10" y2="947.30" stroke="#444" stroke-width="1.4"/>
<line x1="719.40" y1="944.00" x2="726.80" y2="944.00" stroke="#444" stroke-width="1.4"/>
<rect x="716.30" y="946.90" width="13.600000000000001" height="11.50" fill="#646464" stroke="#262626" stroke-width="1.4"/>
<text transform="translate(728.30 1038.09) rotate(-90) scale(0.8600 1)" font-family="'Liberation Sans', sans-serif" font-size="19.60" fill="#000">PXM 500</text>
<line x1="287.40" y1="1048.40" x2="361.90" y2="1048.40" stroke="#3a3a3a" stroke-width="1.6"/>
<text transform="translate(284.22 1072.00) scale(1.1534 1)" font-family="'Liberation Sans', sans-serif" font-size="17.57" fill="#000">+ Enz 25</text>
<text transform="translate(303.70 1094.00) scale(1.1534 1)" font-family="'Liberation Sans', sans-serif" font-size="17.57" fill="#000">(<tspan font-family="'Liberation Serif', serif" font-size="18.45">μ</tspan>M)</text>
<line x1="378.50" y1="1048.40" x2="452.80" y2="1048.40" stroke="#3a3a3a" stroke-width="1.6"/>
<text transform="translate(375.27 1072.00) scale(1.1534 1)" font-family="'Liberation Sans', sans-serif" font-size="17.57" fill="#000">+ Enz 50</text>
<text transform="translate(394.80 1094.00) scale(1.1534 1)" font-family="'Liberation Sans', sans-serif" font-size="17.57" fill="#000">(<tspan font-family="'Liberation Serif', serif" font-size="18.45">μ</tspan>M)</text>
<line x1="571.90" y1="1048.40" x2="646.10" y2="1048.40" stroke="#3a3a3a" stroke-width="1.6"/>
<text transform="translate(565.62 1072.00) scale(1.1534 1)" font-family="'Liberation Sans', sans-serif" font-size="17.57" fill="#000">+ Enz 25</text>
<text transform="translate(585.10 1094.00) scale(1.1534 1)" font-family="'Liberation Sans', sans-serif" font-size="17.57" fill="#000">(<tspan font-family="'Liberation Serif', serif" font-size="18.45">μ</tspan>M)</text>
<line x1="663.00" y1="1048.40" x2="737.10" y2="1048.40" stroke="#3a3a3a" stroke-width="1.6"/>
<text transform="translate(657.57 1072.00) scale(1.1534 1)" font-family="'Liberation Sans', sans-serif" font-size="17.57" fill="#000">+ Enz 50</text>
<text transform="translate(677.10 1094.00) scale(1.1534 1)" font-family="'Liberation Sans', sans-serif" font-size="17.57" fill="#000">(<tspan font-family="'Liberation Serif', serif" font-size="18.45">μ</tspan>M)</text>
<text transform="translate(753.22 986.00) scale(1.2572 1)" font-family="'Liberation Sans', sans-serif" font-size="17.57" fill="#000">(<tspan font-family="'Liberation Serif', serif" font-size="18.45">μ</tspan>M)</text>
<rect x="757.90" y="704.40" width="33.2" height="9.3" fill="#000"/>
<rect x="758.50" y="732.00" width="32" height="8.3" fill="#646464" stroke="#262626" stroke-width="1.2"/>
<text transform="translate(808.66 715.00) scale(1.2570 1)" font-family="'Liberation Sans', sans-serif" font-size="18.10" fill="#000">24 hrs</text>
<text transform="translate(809.35 742.40) scale(1.2570 1)" font-family="'Liberation Sans', sans-serif" font-size="18.10" fill="#000">48 hrs</text>
<line x1="229.50" y1="828.20" x2="263.50" y2="828.20" stroke="#3e3e3e" stroke-width="1.4"/>
<text transform="translate(230.80 826.79) scale(1.2870 1)" font-family="'Liberation Sans', sans-serif" font-size="20.86" fill="#000">***</text>
<line x1="294.80" y1="823.10" x2="361.50" y2="823.10" stroke="#3e3e3e" stroke-width="1.4"/>
<text transform="translate(312.45 821.69) scale(1.2870 1)" font-family="'Liberation Sans', sans-serif" font-size="20.86" fill="#000">***</text>
<line x1="385.80" y1="855.30" x2="453.60" y2="855.30" stroke="#3e3e3e" stroke-width="1.4"/>
<text transform="translate(404.00 853.89) scale(1.2870 1)" font-family="'Liberation Sans', sans-serif" font-size="20.86" fill="#000">***</text>
<line x1="513.00" y1="800.20" x2="547.00" y2="800.20" stroke="#3e3e3e" stroke-width="1.4"/>
<text transform="translate(514.30 798.79) scale(1.2870 1)" font-family="'Liberation Sans', sans-serif" font-size="20.86" fill="#000">***</text>
<line x1="576.10" y1="824.10" x2="643.20" y2="824.10" stroke="#3e3e3e" stroke-width="1.4"/>
<text transform="translate(593.95 822.69) scale(1.2870 1)" font-family="'Liberation Sans', sans-serif" font-size="20.86" fill="#000">***</text>
<line x1="668.00" y1="864.20" x2="734.00" y2="864.20" stroke="#3e3e3e" stroke-width="1.4"/>
<text transform="translate(685.30 862.79) scale(1.2870 1)" font-family="'Liberation Sans', sans-serif" font-size="20.86" fill="#000">***</text>
<line x1="604.00" y1="877.90" x2="636.80" y2="877.90" stroke="#3e3e3e" stroke-width="1.4"/>
<line x1="695.10" y1="905.70" x2="727.80" y2="905.70" stroke="#3e3e3e" stroke-width="1.4"/>
<text transform="translate(315.03 859.40) scale(1.0900 1)" font-family="'Liberation Sans', sans-serif" font-size="17.70" fill="#000">aa</text>
<text transform="translate(335.43 881.00) scale(1.0900 1)" font-family="'Liberation Sans', sans-serif" font-size="17.70" fill="#000">aaa</text>
<text transform="translate(406.65 885.10) scale(1.0900 1)" font-family="'Liberation Sans', sans-serif" font-size="17.70" fill="#000">bb</text>
<text transform="translate(426.65 905.70) scale(1.0900 1)" font-family="'Liberation Sans', sans-serif" font-size="17.70" fill="#000">bbb</text>
<text transform="translate(603.43 872.10) scale(1.0900 1)" font-family="'Liberation Sans', sans-serif" font-size="17.70" fill="#000">aaa</text>
<text transform="translate(694.85 900.10) scale(1.0900 1)" font-family="'Liberation Sans', sans-serif" font-size="17.70" fill="#000">bbb</text>
<rect x="958.8" y="606.6" width="809.6000000000001" height="513.8000000000001" fill="none" stroke="#1a2550" stroke-width="2"/>
<text transform="translate(1292.62 635.20) scale(1.0017 1)" font-family="'Liberation Sans', sans-serif" font-weight="bold" font-size="22.14" fill="#000">PLum-AI</text>
<text transform="translate(1000.50 933.90) rotate(-90) scale(0.8213 1)" font-family="'Liberation Sans', sans-serif" font-weight="bold" font-size="24.28" fill="#000">Cell Viability (% Control)</text>
<line x1="1067.90" y1="681.50" x2="1067.90" y2="956.40" stroke="#3a3a3a" stroke-width="1.5"/>
<line x1="1058.70" y1="954.60" x2="1611.20" y2="954.60" stroke="#3a3a3a" stroke-width="1.35"/>
<line x1="1058.70" y1="909.20" x2="1067.90" y2="909.20" stroke="#3a3a3a" stroke-width="1.35"/>
<line x1="1058.70" y1="863.80" x2="1067.90" y2="863.80" stroke="#3a3a3a" stroke-width="1.35"/>
<line x1="1058.70" y1="818.40" x2="1067.90" y2="818.40" stroke="#3a3a3a" stroke-width="1.35"/>
<line x1="1058.70" y1="773.00" x2="1067.90" y2="773.00" stroke="#3a3a3a" stroke-width="1.35"/>
<line x1="1058.70" y1="727.60" x2="1067.90" y2="727.60" stroke="#3a3a3a" stroke-width="1.35"/>
<line x1="1058.70" y1="682.20" x2="1067.90" y2="682.20" stroke="#3a3a3a" stroke-width="1.35"/>
<text transform="translate(1044.00 960.40) scale(1.0868 1)" font-family="'Liberation Sans', sans-serif" font-size="20.00" fill="#000">0</text>
<text transform="translate(1032.04 915.00) scale(1.0868 1)" font-family="'Liberation Sans', sans-serif" font-size="20.00" fill="#000">25</text>
<text transform="translate(1031.93 869.60) scale(1.0868 1)" font-family="'Liberation Sans', sans-serif" font-size="20.00" fill="#000">50</text>
<text transform="translate(1032.04 824.20) scale(1.0868 1)" font-family="'Liberation Sans', sans-serif" font-size="20.00" fill="#000">75</text>
<text transform="translate(1019.87 778.80) scale(1.0868 1)" font-family="'Liberation Sans', sans-serif" font-size="20.00" fill="#000">100</text>
<text transform="translate(1019.98 733.40) scale(1.0868 1)" font-family="'Liberation Sans', sans-serif" font-size="20.00" fill="#000">125</text>
<text transform="translate(1019.87 688.00) scale(1.0868 1)" font-family="'Liberation Sans', sans-serif" font-size="20.00" fill="#000">150</text>
<rect x="1075.50" y="773.30" width="14.8" height="181.30" fill="#000"/>
<text transform="translate(1088.10 1015.58) rotate(-90) scale(0.8600 1)" font-family="'Liberation Sans', sans-serif" font-size="19.60" fill="#000">PXM 0</text>
<line x1="1105.88" y1="811.40" x2="1105.88" y2="814.80" stroke="#444" stroke-width="1.4"/>
<line x1="1102.18" y1="811.40" x2="1109.58" y2="811.40" stroke="#444" stroke-width="1.4"/>
<rect x="1098.48" y="813.80" width="14.8" height="140.80" fill="#000"/>
<text transform="translate(1111.08 1034.29) rotate(-90) scale(0.8600 1)" font-family="'Liberation Sans', sans-serif" font-size="19.60" fill="#000">PXM 250</text>
<line x1="1128.86" y1="849.00" x2="1128.86" y2="855.00" stroke="#444" stroke-width="1.4"/>
<line x1="1125.16" y1="849.00" x2="1132.56" y2="849.00" stroke="#444" stroke-width="1.4"/>
<rect x="1121.46" y="854.00" width="14.8" height="100.60" fill="#000"/>
<text transform="translate(1134.06 1034.29) rotate(-90) scale(0.8600 1)" font-family="'Liberation Sans', sans-serif" font-size="19.60" fill="#000">PXM 500</text>
<line x1="1174.82" y1="829.20" x2="1174.82" y2="838.20" stroke="#444" stroke-width="1.4"/>
<line x1="1171.12" y1="829.20" x2="1178.52" y2="829.20" stroke="#444" stroke-width="1.4"/>
<rect x="1167.42" y="837.20" width="14.8" height="117.40" fill="#000"/>
<text transform="translate(1180.02 1015.58) rotate(-90) scale(0.8600 1)" font-family="'Liberation Sans', sans-serif" font-size="19.60" fill="#000">PXM 0</text>
<line x1="1197.80" y1="853.10" x2="1197.80" y2="861.20" stroke="#444" stroke-width="1.4"/>
<line x1="1194.10" y1="853.10" x2="1201.50" y2="853.10" stroke="#444" stroke-width="1.4"/>
<rect x="1190.40" y="860.20" width="14.8" height="94.40" fill="#000"/>
<text transform="translate(1203.00 1034.29) rotate(-90) scale(0.8600 1)" font-family="'Liberation Sans', sans-serif" font-size="19.60" fill="#000">PXM 250</text>
<line x1="1220.78" y1="900.50" x2="1220.78" y2="906.60" stroke="#444" stroke-width="1.4"/>
<line x1="1217.08" y1="900.50" x2="1224.48" y2="900.50" stroke="#444" stroke-width="1.4"/>
<rect x="1213.38" y="905.60" width="14.8" height="49.00" fill="#000"/>
<text transform="translate(1225.98 1034.29) rotate(-90) scale(0.8600 1)" font-family="'Liberation Sans', sans-serif" font-size="19.60" fill="#000">PXM 500</text>
<line x1="1266.74" y1="872.70" x2="1266.74" y2="884.00" stroke="#444" stroke-width="1.4"/>
<line x1="1263.04" y1="872.70" x2="1270.44" y2="872.70" stroke="#444" stroke-width="1.4"/>
<rect x="1259.34" y="883.00" width="14.8" height="71.60" fill="#000"/>
<text transform="translate(1271.94 1015.58) rotate(-90) scale(0.8600 1)" font-family="'Liberation Sans', sans-serif" font-size="19.60" fill="#000">PXM 0</text>
<line x1="1289.72" y1="884.30" x2="1289.72" y2="897.40" stroke="#444" stroke-width="1.4"/>
<line x1="1286.02" y1="884.30" x2="1293.42" y2="884.30" stroke="#444" stroke-width="1.4"/>
<rect x="1282.32" y="896.40" width="14.8" height="58.20" fill="#000"/>
<text transform="translate(1294.92 1034.29) rotate(-90) scale(0.8600 1)" font-family="'Liberation Sans', sans-serif" font-size="19.60" fill="#000">PXM 250</text>
<line x1="1312.70" y1="928.40" x2="1312.70" y2="936.60" stroke="#444" stroke-width="1.4"/>
<line x1="1309.00" y1="928.40" x2="1316.40" y2="928.40" stroke="#444" stroke-width="1.4"/>
<rect x="1305.30" y="935.60" width="14.8" height="19.00" fill="#000"/>
<text transform="translate(1317.90 1034.29) rotate(-90) scale(0.8600 1)" font-family="'Liberation Sans', sans-serif" font-size="19.60" fill="#000">PXM 500</text>
<rect x="1358.70" y="774.30" width="13.600000000000001" height="180.30" fill="#646464" stroke="#262626" stroke-width="1.4"/>
<text transform="translate(1370.70 1015.58) rotate(-90) scale(0.8600 1)" font-family="'Liberation Sans', sans-serif" font-size="19.60" fill="#000">PXM 0</text>
<line x1="1388.44" y1="830.30" x2="1388.44" y2="834.50" stroke="#444" stroke-width="1.4"/>
<line x1="1384.74" y1="830.30" x2="1392.14" y2="830.30" stroke="#444" stroke-width="1.4"/>
<rect x="1381.64" y="834.10" width="13.600000000000001" height="120.50" fill="#646464" stroke="#262626" stroke-width="1.4"/>
<text transform="translate(1393.64 1034.29) rotate(-90) scale(0.8600 1)" font-family="'Liberation Sans', sans-serif" font-size="19.60" fill="#000">PXM 250</text>
<line x1="1411.38" y1="869.90" x2="1411.38" y2="877.10" stroke="#444" stroke-width="1.4"/>
<line x1="1407.68" y1="869.90" x2="1415.08" y2="869.90" stroke="#444" stroke-width="1.4"/>
<rect x="1404.58" y="876.70" width="13.600000000000001" height="77.90" fill="#646464" stroke="#262626" stroke-width="1.4"/>
<text transform="translate(1416.58 1034.29) rotate(-90) scale(0.8600 1)" font-family="'Liberation Sans', sans-serif" font-size="19.60" fill="#000">PXM 500</text>
<line x1="1457.26" y1="848.20" x2="1457.26" y2="858.20" stroke="#444" stroke-width="1.4"/>
<line x1="1453.56" y1="848.20" x2="1460.96" y2="848.20" stroke="#444" stroke-width="1.4"/>
<rect x="1450.46" y="857.80" width="13.600000000000001" height="96.80" fill="#646464" stroke="#262626" stroke-width="1.4"/>
<text transform="translate(1462.46 1015.58) rotate(-90) scale(0.8600 1)" font-family="'Liberation Sans', sans-serif" font-size="19.60" fill="#000">PXM 0</text>
<line x1="1480.20" y1="877.70" x2="1480.20" y2="884.30" stroke="#444" stroke-width="1.4"/>
<line x1="1476.50" y1="877.70" x2="1483.90" y2="877.70" stroke="#444" stroke-width="1.4"/>
<rect x="1473.40" y="883.90" width="13.600000000000001" height="70.70" fill="#646464" stroke="#262626" stroke-width="1.4"/>
<text transform="translate(1485.40 1034.29) rotate(-90) scale(0.8600 1)" font-family="'Liberation Sans', sans-serif" font-size="19.60" fill="#000">PXM 250</text>
<line x1="1503.14" y1="897.50" x2="1503.14" y2="900.80" stroke="#444" stroke-width="1.4"/>
<line x1="1499.44" y1="897.50" x2="1506.84" y2="897.50" stroke="#444" stroke-width="1.4"/>
<rect x="1496.34" y="900.40" width="13.600000000000001" height="54.20" fill="#646464" stroke="#262626" stroke-width="1.4"/>
<text transform="translate(1508.34 1034.29) rotate(-90) scale(0.8600 1)" font-family="'Liberation Sans', sans-serif" font-size="19.60" fill="#000">PXM 500</text>
<line x1="1549.02" y1="882.20" x2="1549.02" y2="887.30" stroke="#444" stroke-width="1.4"/>
<line x1="1545.32" y1="882.20" x2="1552.72" y2="882.20" stroke="#444" stroke-width="1.4"/>
<rect x="1542.22" y="886.90" width="13.600000000000001" height="67.70" fill="#646464" stroke="#262626" stroke-width="1.4"/>
<text transform="translate(1554.22 1015.58) rotate(-90) scale(0.8600 1)" font-family="'Liberation Sans', sans-serif" font-size="19.60" fill="#000">PXM 0</text>
<line x1="1571.96" y1="897.90" x2="1571.96" y2="903.00" stroke="#444" stroke-width="1.4"/>
<line x1="1568.26" y1="897.90" x2="1575.66" y2="897.90" stroke="#444" stroke-width="1.4"/>
<rect x="1565.16" y="902.60" width="13.600000000000001" height="52.00" fill="#646464" stroke="#262626" stroke-width="1.4"/>
<text transform="translate(1577.16 1034.29) rotate(-90) scale(0.8600 1)" font-family="'Liberation Sans', sans-serif" font-size="19.60" fill="#000">PXM 250</text>
<line x1="1594.90" y1="941.80" x2="1594.90" y2="949.30" stroke="#444" stroke-width="1.4"/>
<line x1="1591.20" y1="941.80" x2="1598.60" y2="941.80" stroke="#444" stroke-width="1.4"/>
<rect x="1588.10" y="948.90" width="13.600000000000001" height="5.70" fill="#646464" stroke="#262626" stroke-width="1.4"/>
<text transform="translate(1600.10 1034.29) rotate(-90) scale(0.8600 1)" font-family="'Liberation Sans', sans-serif" font-size="19.60" fill="#000">PXM 500</text>
<line x1="1159.50" y1="1044.60" x2="1233.60" y2="1044.60" stroke="#3a3a3a" stroke-width="1.6"/>
<text transform="translate(1156.17 1068.20) scale(1.1534 1)" font-family="'Liberation Sans', sans-serif" font-size="17.57" fill="#000">+ Enz 25</text>
<text transform="translate(1175.65 1090.20) scale(1.1534 1)" font-family="'Liberation Sans', sans-serif" font-size="17.57" fill="#000">(<tspan font-family="'Liberation Serif', serif" font-size="18.45">μ</tspan>M)</text>
<line x1="1250.50" y1="1044.60" x2="1324.50" y2="1044.60" stroke="#3a3a3a" stroke-width="1.6"/>
<text transform="translate(1247.07 1068.20) scale(1.1534 1)" font-family="'Liberation Sans', sans-serif" font-size="17.57" fill="#000">+ Enz 50</text>
<text transform="translate(1266.60 1090.20) scale(1.1534 1)" font-family="'Liberation Sans', sans-serif" font-size="17.57" fill="#000">(<tspan font-family="'Liberation Serif', serif" font-size="18.45">μ</tspan>M)</text>
<line x1="1444.00" y1="1044.60" x2="1518.20" y2="1044.60" stroke="#3a3a3a" stroke-width="1.6"/>
<text transform="translate(1437.72 1068.20) scale(1.1534 1)" font-family="'Liberation Sans', sans-serif" font-size="17.57" fill="#000">+ Enz 25</text>
<text transform="translate(1457.20 1090.20) scale(1.1534 1)" font-family="'Liberation Sans', sans-serif" font-size="17.57" fill="#000">(<tspan font-family="'Liberation Serif', serif" font-size="18.45">μ</tspan>M)</text>
<line x1="1535.00" y1="1044.60" x2="1609.20" y2="1044.60" stroke="#3a3a3a" stroke-width="1.6"/>
<text transform="translate(1529.52 1068.20) scale(1.1534 1)" font-family="'Liberation Sans', sans-serif" font-size="17.57" fill="#000">+ Enz 50</text>
<text transform="translate(1549.05 1090.20) scale(1.1534 1)" font-family="'Liberation Sans', sans-serif" font-size="17.57" fill="#000">(<tspan font-family="'Liberation Serif', serif" font-size="18.45">μ</tspan>M)</text>
<text transform="translate(1625.12 982.20) scale(1.2572 1)" font-family="'Liberation Sans', sans-serif" font-size="17.57" fill="#000">(<tspan font-family="'Liberation Serif', serif" font-size="18.45">μ</tspan>M)</text>
<rect x="1629.80" y="700.60" width="33.2" height="9.3" fill="#000"/>
<rect x="1630.40" y="728.20" width="32" height="8.3" fill="#646464" stroke="#262626" stroke-width="1.2"/>
<text transform="translate(1680.56 711.20) scale(1.2570 1)" font-family="'Liberation Sans', sans-serif" font-size="18.10" fill="#000">24 hrs</text>
<text transform="translate(1681.25 738.60) scale(1.2570 1)" font-family="'Liberation Sans', sans-serif" font-size="18.10" fill="#000">48 hrs</text>
<line x1="1102.60" y1="796.10" x2="1135.30" y2="796.10" stroke="#3e3e3e" stroke-width="1.4"/>
<text transform="translate(1103.25 794.69) scale(1.2870 1)" font-family="'Liberation Sans', sans-serif" font-size="20.86" fill="#000">***</text>
<line x1="1166.70" y1="813.80" x2="1233.80" y2="813.80" stroke="#3e3e3e" stroke-width="1.4"/>
<text transform="translate(1184.55 812.39) scale(1.2870 1)" font-family="'Liberation Sans', sans-serif" font-size="20.86" fill="#000">***</text>
<line x1="1258.60" y1="855.30" x2="1325.50" y2="855.30" stroke="#3e3e3e" stroke-width="1.4"/>
<text transform="translate(1276.35 853.89) scale(1.2870 1)" font-family="'Liberation Sans', sans-serif" font-size="20.86" fill="#000">***</text>
<line x1="1384.80" y1="813.80" x2="1418.80" y2="813.80" stroke="#3e3e3e" stroke-width="1.4"/>
<text transform="translate(1386.10 812.39) scale(1.2870 1)" font-family="'Liberation Sans', sans-serif" font-size="20.86" fill="#000">***</text>
<line x1="1448.00" y1="831.20" x2="1515.00" y2="831.20" stroke="#3e3e3e" stroke-width="1.4"/>
<text transform="translate(1465.80 829.79) scale(1.2870 1)" font-family="'Liberation Sans', sans-serif" font-size="20.86" fill="#000">***</text>
<line x1="1539.00" y1="865.60" x2="1607.10" y2="865.60" stroke="#3e3e3e" stroke-width="1.4"/>
<text transform="translate(1557.35 864.19) scale(1.2870 1)" font-family="'Liberation Sans', sans-serif" font-size="20.86" fill="#000">***</text>
<text transform="translate(1207.63 888.00) scale(1.0900 1)" font-family="'Liberation Sans', sans-serif" font-size="17.70" fill="#000">aaa</text>
<text transform="translate(1298.65 915.20) scale(1.0900 1)" font-family="'Liberation Sans', sans-serif" font-size="17.70" fill="#000">bbb</text>
<text transform="translate(1489.63 884.20) scale(1.0900 1)" font-family="'Liberation Sans', sans-serif" font-size="17.70" fill="#000">aaa</text>
<text transform="translate(1580.85 929.10) scale(1.0900 1)" font-family="'Liberation Sans', sans-serif" font-size="17.70" fill="#000">bbb</text>
<text transform="translate(1.64 33.90) scale(1.0299 1)" font-family="'Liberation Sans', sans-serif" font-weight="bold" font-size="45.07" fill="#000">A</text>
<text transform="translate(0.85 616.00) scale(0.9717 1)" font-family="'Liberation Sans', sans-serif" font-weight="bold" font-size="45.07" fill="#000">B</text>
<text transform="translate(50.87 468.96) rotate(-90) scale(1.0287 1)" font-family="'Liberation Sans', sans-serif" font-weight="bold" font-size="24.92" fill="#000">Trypan Blue Exclusion Assay</text>
<text transform="translate(51.67 1039.86) rotate(-90) scale(1.0287 1)" font-family="'Liberation Sans', sans-serif" font-weight="bold" font-size="24.92" fill="#000">Trypan Blue Exclusion Assay</text>
</svg></body></html>
